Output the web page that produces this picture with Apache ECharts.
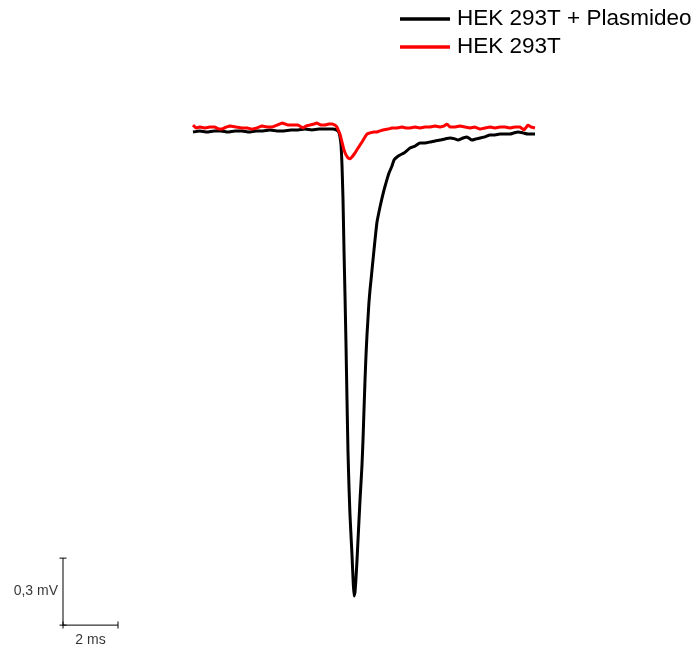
<!DOCTYPE html>
<html style="height: 100%">
<head>
    <meta charset="utf-8" />
    <title>HEK 293T</title>
    <script src="https://cdn.jsdelivr.net/npm/echarts@6/dist/echarts.min.js"></script>
</head>
<body style="height: 100%; margin: 0; overflow: hidden; background: #fff">
    <div id="container" style="width: 694px; height: 645px"></div>
    <script>
        // tiempo (ms) y voltaje (mV)
        var plasmTrace = [
            [0, -0.009], [0.255, -0.004], [0.509, -0.009], [0.764, -0.004], [1.018, -0.004],
            [1.273, -0.009], [1.527, -0.004], [1.782, -0.004], [2.036, -0.009], [2.291, -0.004],
            [2.545, -0.004], [2.8, 0], [3.055, -0.004], [3.309, -0.004], [3.564, 0], [3.818, 0],
            [4.073, 0.004], [4.327, 0], [4.582, 0.004], [4.836, 0.004], [5.091, 0.004],
            [5.273, -0.004], [5.309, -0.013], [5.345, -0.031], [5.382, -0.067], [5.418, -0.157],
            [5.455, -0.313], [5.491, -0.537], [5.527, -0.739], [5.564, -0.963], [5.6, -1.209],
            [5.636, -1.440], [5.673, -1.600], [5.709, -1.724], [5.745, -1.814], [5.782, -1.903],
            [5.818, -2.006], [5.855, -2.087], [5.891, -2.069], [5.927, -2.006], [5.964, -1.926],
            [6.0, -1.836], [6.036, -1.747], [6.073, -1.657], [6.109, -1.580], [6.145, -1.500],
            [6.182, -1.388], [6.218, -1.254], [6.255, -1.120], [6.291, -1.008], [6.327, -0.918],
            [6.364, -0.842], [6.4, -0.770], [6.436, -0.717], [6.473, -0.672], [6.509, -0.627],
            [6.582, -0.537], [6.618, -0.493], [6.691, -0.412], [6.8, -0.345], [6.873, -0.305],
            [6.945, -0.269], [7.018, -0.237], [7.127, -0.193], [7.236, -0.161], [7.309, -0.134],
            [7.418, -0.121], [7.527, -0.112], [7.673, -0.103], [7.891, -0.081], [8.073, -0.072],
            [8.255, -0.058], [8.436, -0.058], [8.618, -0.054], [8.8, -0.049], [8.982, -0.045],
            [9.164, -0.040], [9.345, -0.036], [9.527, -0.040], [9.636, -0.045], [9.818, -0.036],
            [9.964, -0.031], [10.145, -0.045], [10.291, -0.040], [10.436, -0.036], [10.618, -0.031],
            [10.8, -0.022], [10.982, -0.022], [11.164, -0.018], [11.345, -0.018], [11.527, -0.018],
            [11.673, -0.013], [11.818, -0.009], [12.0, -0.013], [12.182, -0.018], [12.436, -0.018]
        ];
        var controlTrace = [
            [0, 0.022], [0.109, 0.009], [0.255, 0.013], [0.436, 0.009], [0.618, 0.013],
            [0.8, 0.013], [0.945, 0.004], [1.055, 0.004], [1.2, 0.013], [1.345, 0.018],
            [1.564, 0.013], [1.782, 0.009], [1.964, 0.009], [2.145, 0.004], [2.327, 0.009],
            [2.509, 0.018], [2.691, 0.013], [2.873, 0.013], [3.055, 0.022], [3.236, 0.031],
            [3.345, 0.027], [3.455, 0.022], [3.636, 0.022], [3.818, 0.022], [4.0, 0.009],
            [4.109, 0.018], [4.255, 0.022], [4.4, 0.027], [4.509, 0.031], [4.655, 0.022],
            [4.8, 0.022], [4.945, 0.027], [5.055, 0.027], [5.164, 0.022], [5.236, 0.013],
            [5.345, -0.018], [5.418, -0.054], [5.491, -0.090], [5.564, -0.112], [5.636, -0.125],
            [5.709, -0.130], [5.782, -0.121], [5.891, -0.103], [6.0, -0.081], [6.145, -0.054],
            [6.255, -0.031], [6.327, -0.018], [6.436, -0.013], [6.582, -0.009], [6.691, -0.009],
            [6.8, -0.004], [6.909, 0], [7.091, 0.004], [7.236, 0.009], [7.418, 0.009],
            [7.6, 0.013], [7.745, 0.009], [7.891, 0.009], [8.073, 0.013], [8.255, 0.009],
            [8.436, 0.013], [8.618, 0.013], [8.8, 0.018], [8.982, 0.013], [9.127, 0.018],
            [9.236, 0.027], [9.345, 0.013], [9.527, 0.013], [9.709, 0.018], [9.891, 0.013],
            [10.073, 0.009], [10.255, 0.013], [10.436, 0.004], [10.618, 0.009], [10.8, 0.013],
            [10.982, 0.009], [11.164, 0.013], [11.345, 0.013], [11.527, 0.009], [11.709, 0.013],
            [11.891, 0.013], [12.036, 0], [12.182, 0.022], [12.291, 0.013], [12.436, 0.009]
        ];
        var seriesNames = ["HEK 293T + Plasmideo", "HEK 293T"];
        // barra de escala: origen, 2 ms y 0,3 mV
        var scaleOrigin = [-4.727, -2.217];
        var scaleX = 2;
        var scaleY = 0.3;
        var scaleLabels = ["0,3 mV", "2 ms"];

        var dom = document.getElementById("container");
        var myChart = echarts.init(dom, null, { renderer: "canvas" });

        var x0 = scaleOrigin[0], y0 = scaleOrigin[1];
        var font = "Liberation Sans, Arial, sans-serif";

        var option = {
            animation: false,
            grid: { left: 0, right: 0, top: 0, bottom: 0 },
            xAxis: { type: "value", min: -7.018, max: 18.218, show: false },
            yAxis: { type: "value", min: -2.306, max: 0.582, show: false },
            legend: {
                orient: "vertical",
                left: 400,
                top: 7,
                padding: 0,
                itemWidth: 50,
                itemHeight: 3.5,
                itemGap: 4,
                icon: "rect",
                data: seriesNames,
                textStyle: { fontSize: 22.5, lineHeight: 24, color: "#000", fontFamily: font, padding: [0, 0, 0, 2] }
            },
            series: [
                {
                    name: seriesNames[0],
                    type: "line",
                    data: plasmTrace,
                    showSymbol: false,
                    smooth: 0.15,
                    z: 3,
                    lineStyle: { color: "#000", width: 3 },
                    itemStyle: { color: "#000" }
                },
                {
                    name: seriesNames[1],
                    type: "line",
                    data: controlTrace,
                    showSymbol: false,
                    z: 4,
                    lineStyle: { color: "#ff0000", width: 3 },
                    itemStyle: { color: "#ff0000" }
                },
                {
                    type: "line",
                    data: [[x0, y0], [x0, y0 + scaleY]],
                    symbol: "rect",
                    symbolSize: [7, 1],
                    lineStyle: { color: "#000", width: 1 },
                    itemStyle: { color: "#000" },
                    silent: true
                },
                {
                    type: "line",
                    data: [[x0, y0], [x0 + scaleX, y0]],
                    symbol: "rect",
                    symbolSize: [1, 7],
                    lineStyle: { color: "#000", width: 1 },
                    itemStyle: { color: "#000" },
                    silent: true
                },
                {
                    type: "scatter",
                    symbolSize: 0,
                    silent: true,
                    data: [
                        { value: [x0, y0 + scaleY / 2], name: scaleLabels[0], label: { position: "left", distance: 5 } },
                        { value: [x0 + scaleX / 2, y0], name: scaleLabels[1], label: { position: "bottom", distance: 8 } }
                    ],
                    label: {
                        show: true,
                        formatter: "{b}",
                        fontSize: 14,
                        color: "#000",
                        fontFamily: font
                    }
                }
            ]
        };
        myChart.setOption(option);
        window.addEventListener("resize", myChart.resize);
    </script>
</body>
</html>
